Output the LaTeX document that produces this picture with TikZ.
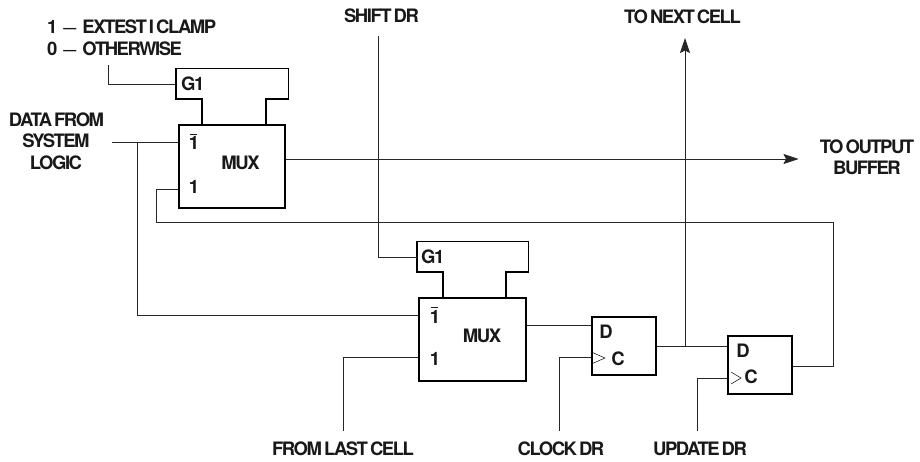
\documentclass[tikz,border=0pt]{standalone}
\usepackage{fontspec}
\setmainfont[LetterSpace=-8,WordSpace=0.55]{TeX Gyre Heros}
\usetikzlibrary{arrows.meta}
\tikzset{
  box/.style={draw=black,line width=1.4pt,inner sep=0pt,fill=none},
  hat/.style={draw=black,line width=1.4pt,line join=miter},
  ghost/.style={inner sep=0pt},
  wire/.style={draw=black!85,line width=0.8pt},
  arrowwire/.style={wire,-{Stealth[length=15pt,width=10pt,inset=2.5pt]}},
  thinwire/.style={draw=black,line width=0.5pt},
  lbl/.style={inner sep=0pt,font=\fontsize{18.5}{20}\selectfont\bfseries,text=black!90},
  pin/.style={lbl}
}
\newcommand{\barone}{\leavevmode\rlap{\kern1pt\raisebox{15.5pt}{\rule{7.5pt}{0.7pt}}}1}
\newcommand{\lgdash}[1]{#1\hspace{6pt}{\fontsize{13}{15}\selectfont\raisebox{0.8pt}{—}}\hspace{6pt}}
\begin{document}
\begin{tikzpicture}[x=1pt,y=-1pt]
\useasboundingbox (0,0) rectangle (920,462);
% boxes
\node[ghost,minimum width=112pt,minimum height=30pt] (gA) at (232,84) {};
\node[box,minimum width=106pt,minimum height=83pt] (muxA) at (232,166.5) {};
\node[ghost,minimum width=111pt,minimum height=30pt] (gB) at (472.5,257) {};
\node[box,minimum width=107pt,minimum height=83pt] (muxB) at (472.5,339.5) {};
\node[box,minimum width=64pt,minimum height=58pt] (ffA) at (624,346) {};
\node[box,minimum width=64pt,minimum height=58pt] (ffB) at (760,365) {};
% hat-shaped G1 blocks
\draw[hat] (muxA.north -| 202,0) -- (202,99) -| (gA.west) |- (gA.north east) |- (266,99) -- (muxA.north -| 266,0);
\draw[hat] (muxB.north -| 443,0) -- (443,272) -| (gB.west) |- (gB.north east) |- (506,272) -- (muxB.north -| 506,0);
% pin labels
\node[pin,anchor=west] (g1Atxt) at (181,84) {G1};
\node[pin,anchor=base] (barA) at (194,150) {\barone};
\node[pin] (oneA) at (194,187) {1};
\node[pin] (muxAtxt) at (240.5,163) {MUX};
\node[pin,anchor=west] (g1Btxt) at (421,257) {G1};
\node[pin,anchor=base] (barB) at (435,323) {\barone};
\node[pin] (oneB) at (435,359) {1};
\node[pin] (muxBtxt) at (482,336) {MUX};
\node[pin] (dA) at (606,331.5) {D};
\node[pin] (cA) at (618,359) {C};
\node[pin] (dB) at (743,350.5) {D};
\node[pin] (cB) at (751,376.5) {C};
% clock marks
\draw[thinwire] (ffA.west |- 0,352) -- (605,358) -- (ffA.west |- 0,364);
\draw[thinwire] (731,372) -- (741,378) -- (731,384);
% labels
\node[lbl,anchor=west] (legA) at (47,27) {\lgdash{1}EXTEST I CLAMP};
\node[lbl,anchor=west] (legB) at (47,49) {\lgdash{0}OTHERWISE};
\node[lbl] (shift) at (381.5,16) {SHIFT DR};
\node[lbl] (next) at (682.5,17) {TO NEXT CELL};
\node[lbl] (d1) at (56.5,120) {DATA FROM};
\node[lbl] (d2) at (56,141) {SYSTEM};
\node[lbl] (d3) at (56,163) {LOGIC};
\node[lbl] (out1) at (867,147) {TO OUTPUT};
\node[lbl] (out2) at (867,168) {BUFFER};
\node[lbl] (from) at (343,448.5) {FROM LAST CELL};
\node[lbl] (clock) at (561,448.5) {CLOCK DR};
\node[lbl] (update) at (700,449) {UPDATE DR};
% coordinates
\coordinate (legEnd) at (108,65);
\coordinate (dataStart) at (112,142);
\coordinate (dataJoin) at (137,142);
\coordinate (shiftTop) at (378,36);
\coordinate (fromEnd) at (343,431);
\coordinate (clockEnd) at (559,431);
\coordinate (updEnd) at (697,431);
\coordinate (nextJoin) at (685,346);
\coordinate (nextEnd) at (685,38);
\coordinate (outEnd) at (798.5,159);
% connectors
\draw[wire] (legEnd) |- (gA.west);
\draw[wire] (dataStart) -- (muxA.west |- dataStart);
\draw[wire] (dataJoin) |- (muxB.west |- 0,315);
\draw[wire] (muxA.west |- 0,189) -- (156,189) |- (833,222) |- (ffB.east |- 0,366);
\draw[arrowwire] (muxA.east |- outEnd) -- (outEnd);
\draw[arrowwire] (nextJoin) -- (nextEnd);
\draw[wire] (shiftTop) |- (gB.west);
\draw[wire] (fromEnd) |- (muxB.west |- 0,357);
\draw[wire] (muxB.east |- 0,325) -- (ffA.west |- 0,325);
\draw[wire] (clockEnd) |- (ffA.west |- 0,357);
\draw[wire] (ffA.east |- nextJoin) -- (ffB.west |- nextJoin);
\draw[wire] (updEnd) |- (ffB.west |- 0,378);
\end{tikzpicture}
\end{document}
